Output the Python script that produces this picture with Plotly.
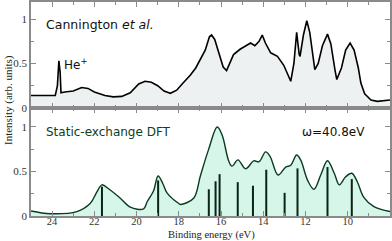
import plotly.graph_objects as go
from plotly.subplots import make_subplots

# Experimental spectrum (Cannington et al.)
exp_energy = [25.0, 24.5, 24.0, 23.85, 23.75, 23.68, 23.62, 23.58, 23.4, 23.0, 22.6, 22.3, 22.0,
              21.5, 21.1, 20.7, 20.3, 19.9, 19.6, 19.3, 19.0, 18.7, 18.4, 18.1, 17.8, 17.45,
              17.2, 16.98, 16.75, 16.55, 16.45, 16.3, 16.1, 15.9, 15.74, 15.6, 15.41, 15.1,
              14.8, 14.6, 14.4, 14.2, 14.05, 13.9, 13.65, 13.33, 13.03, 12.8, 12.7, 12.55,
              12.42, 12.3, 12.26, 12.1, 11.94, 11.8, 11.65, 11.56, 11.4, 11.2, 10.96, 10.8,
              10.6, 10.52, 10.3, 10.1, 9.89, 9.7, 9.5, 9.38, 9.2, 8.9, 8.6, 8.29, 8.0]
exp_intensity = [0.14, 0.14, 0.135, 0.14, 0.25, 0.53, 0.40, 0.17, 0.18, 0.19, 0.23, 0.22, 0.18,
                 0.14, 0.125, 0.13, 0.17, 0.27, 0.30, 0.29, 0.25, 0.19, 0.165, 0.20, 0.28, 0.37,
                 0.45, 0.54, 0.65, 0.80, 0.82, 0.77, 0.60, 0.46, 0.42, 0.50, 0.60, 0.66,
                 0.70, 0.73, 0.70, 0.75, 0.82, 0.73, 0.62, 0.58, 0.48, 0.36, 0.30, 0.50,
                 0.85, 0.60, 0.58, 0.82, 0.98, 0.85, 0.55, 0.43, 0.50, 0.70, 0.83, 0.72,
                 0.42, 0.32, 0.45, 0.65, 0.73, 0.65, 0.45, 0.28, 0.16, 0.09, 0.075, 0.08, 0.09]

# Static-exchange DFT broadened spectrum
dft_energy = [25.0, 24.1, 22.83, 22.2, 21.88, 21.64, 21.3, 20.77, 20.3, 19.67, 19.5, 19.2,
              18.98, 18.75, 18.56, 18.0, 17.92, 17.3, 16.98, 16.6, 16.18, 15.95, 15.64,
              15.48, 15.2, 14.84, 14.45, 14.2, 13.89, 13.68, 13.3, 12.94, 12.7, 12.42, 12.23,
              11.9, 11.6, 11.28, 10.96, 10.64, 10.4, 10.1, 9.81, 9.55, 9.24, 8.76, 8.0]
dft_intensity = [0.056, 0.026, 0.05, 0.14, 0.27, 0.35, 0.30, 0.20, 0.10, 0.08, 0.16, 0.28,
                 0.45, 0.36, 0.26, 0.14, 0.13, 0.20, 0.45, 0.74, 1.0, 0.91, 0.62,
                 0.56, 0.63, 0.53, 0.62, 0.61, 0.72, 0.67, 0.46, 0.55, 0.57, 0.685, 0.63,
                 0.40, 0.30, 0.46, 0.62, 0.48, 0.35, 0.44, 0.48, 0.385, 0.21, 0.105, 0.05]

# Stick transitions
stick_energy = [21.64, 18.98, 16.58, 16.26, 16.07, 15.21, 14.49, 13.86, 12.99, 12.38, 10.96, 9.81]
stick_height = [0.33, 0.40, 0.30, 0.39, 0.47, 0.38, 0.34, 0.52, 0.26, 0.535, 0.55, 0.415]

x_ticks = [24, 22, 20, 18, 16, 14, 12, 10, 8]
y_ticks = [0, 0.5, 1]
y_tick_text = ["0", "0.5", "1"]

frame = "#8a8a8a"
green_line = "#0b3a20"
serif = "Liberation Serif"
sans = "DejaVu Sans"

W, H = 392, 241
ML, MR, MT, MB = 31, 2, 2, 25

fig = make_subplots(rows=2, cols=1, shared_xaxes=True, vertical_spacing=0)

fig.add_trace(go.Scatter(x=exp_energy, y=exp_intensity, mode="lines",
                         line=dict(color="black", width=1.6),
                         fill="tozeroy", fillcolor="#eef1f1", showlegend=False,
                         hoverinfo="skip"), row=1, col=1)

fig.add_trace(go.Scatter(x=dft_energy, y=dft_intensity, mode="lines", line_shape="spline",
                         line=dict(color=green_line, width=1.4),
                         fill="tozeroy", fillcolor="#d5f6e9", showlegend=False,
                         hoverinfo="skip"), row=2, col=1)

# sticks as vertical segments built from the stick arrays
sx, sy = [], []
for e, h in zip(stick_energy, stick_height):
    sx += [e, e, None]
    sy += [0, h, None]
fig.add_trace(go.Scatter(x=sx, y=sy, mode="lines", line=dict(color="#0a2414", width=2),
                         showlegend=False, hoverinfo="skip"), row=2, col=1)

axis_common = dict(showline=True, linecolor=frame, linewidth=1.5, mirror="ticks",
                   ticks="inside", ticklen=5, tickwidth=1, tickcolor=frame,
                   showgrid=False, zeroline=False, automargin=False,
                   tickfont=dict(family=serif, size=11, color="#333333"))

fig.update_xaxes(**axis_common, range=[25, 8], tickvals=x_ticks,
                 minor=dict(ticks="inside", ticklen=3, tickcolor=frame, dtick=1, tick0=8,
                            showgrid=False))
fig.update_xaxes(showticklabels=False, row=1, col=1)
fig.update_xaxes(ticklabelstandoff=-5, tickfont=dict(size=10.5), row=2, col=1)

fig.update_yaxes(**axis_common, tickvals=y_ticks, ticktext=y_tick_text,
                 minor=dict(ticks="inside", ticklen=3, tickcolor=frame, dtick=0.25, tick0=0,
                            showgrid=False))
fig.update_yaxes(range=[0, 1.191], row=1, col=1)
fig.update_yaxes(range=[0, 1.2135], row=2, col=1)

fig.update_layout(
    width=W, height=H,
    margin=dict(l=ML, r=MR, t=MT, b=MB),
    plot_bgcolor="white", paper_bgcolor="white",
    yaxis=dict(domain=[0.5047, 1]),
    yaxis2=dict(domain=[0, 0.5047]),
)

def px_to_paper(px, py):
    return (px - ML) / (W - ML - MR), (H - MB - py) / (H - MT - MB)

fig.add_annotation(x=24.4, y=0.94, xref="x", yref="y", text="Cannington <i>et al.</i>",
                   showarrow=False, xanchor="left", yanchor="middle",
                   font=dict(family=sans, size=12.5, color="#111111"))
fig.add_annotation(x=23.55, y=0.49, xref="x", yref="y", text="He<sup>+</sup>",
                   showarrow=False, xanchor="left", yanchor="middle",
                   font=dict(family=sans, size=12, color="#111111"))
fig.add_annotation(x=24.4, y=0.94, xref="x2", yref="y2", text="Static-exchange DFT",
                   showarrow=False, xanchor="left", yanchor="middle",
                   font=dict(family=sans, size=12, color="#0b4025"))
fig.add_annotation(x=12.25, y=0.94, xref="x2", yref="y2", text="ω=40.8eV",
                   showarrow=False, xanchor="left", yanchor="middle",
                   font=dict(family=sans, size=12, color="#111111"))

yx, yy = px_to_paper(8, 100)
fig.add_annotation(x=yx, y=yy, xref="paper", yref="paper", text="Intensity (arb. units)",
                   showarrow=False, textangle=-90, xanchor="center", yanchor="middle",
                   font=dict(family=serif, size=11, color="#222222"))
tx, ty = px_to_paper(211, 235)
fig.add_annotation(x=tx, y=ty, xref="paper", yref="paper", text="Binding energy (eV)",
                   showarrow=False, xanchor="center", yanchor="middle",
                   font=dict(family=serif, size=10.5, color="#222222"))

fig.write_html("out.html", config={"displayModeBar": False},
               post_script="document.body.style.margin='0';document.body.style.overflow='hidden';")
